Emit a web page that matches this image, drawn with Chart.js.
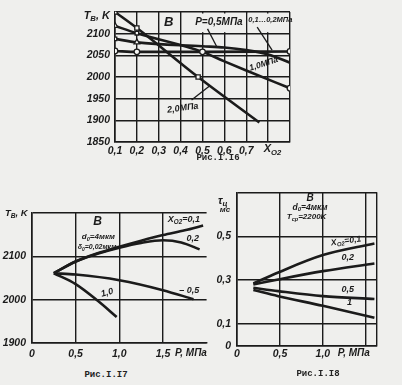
<!DOCTYPE html>
<html><head><meta charset="utf-8">
<script src="https://cdn.jsdelivr.net/npm/chart.js@4"></script>
<style>
html,body{margin:0;padding:0}
body{background:#efefed;width:402px;height:385px;overflow:hidden;position:relative}
canvas{position:absolute}
.cap{position:absolute;font:bold 9px "Liberation Mono",monospace;color:#222;transform:translate(-50%,-50%);white-space:nowrap}
</style></head><body>
<canvas id="c1" width="250" height="168" style="left:60px;top:0px"></canvas>
<canvas id="c2" width="215" height="170" style="left:0px;top:195px"></canvas>
<canvas id="c3" width="185" height="185" style="left:210px;top:180px"></canvas>
<div class="cap" style="left:218px;top:158px">Рис.I.I6</div>
<div class="cap" style="left:106px;top:375px">Рис.I.I7</div>
<div class="cap" style="left:318px;top:374px">Рис.I.I8</div>
<script>
// ---------- Fig. I.16 : T_B vs X_O2 ----------
const f16XTicks = [0.1,0.2,0.3,0.4,0.5,0.6,0.7,0.8,0.9];
const f16XLabels = ['0,1','0,2','0,3','0,4','0,5','0,6','0,7','',''];
const f16YTicks = [1850,1900,1950,2000,2050,2100,2150];
const f16YLabels = ['1850','1900','1950','2000','2050','2100',''];
const f16P20X = [0.1,0.2,0.48,0.76];
const f16P20Y = [2150,2113,2000,1895];
const f16P10X = [0.1,0.2,0.5,0.6,0.7,0.9];
const f16P10Y = [2118,2101,2058,2036,2015,1974];
const f16P05X = [0.1,0.2,0.5,0.6,0.7,0.8,0.9];
const f16P05Y = [2088,2080,2071,2068,2062,2052,2033];
const f16P01X = [0.1,0.2,0.5,0.9];
const f16P01Y = [2060,2058,2058,2059];

// ---------- Fig. I.17 : T_B vs P ----------
const f17XTicks = [0,0.5,1.0,1.5];
const f17XLabels = ['0','0,5','1,0','1,5'];
const f17YTicks = [1900,2000,2100,2200];
const f17YLabels = ['1900','2000','2100',''];
const f17X01 = [0.25,0.5,0.75,1.0,1.25,1.5,1.75,1.96];
const f17Y01 = [2061,2088,2107,2122,2136,2149,2160,2171];
const f17X02 = [0.25,0.5,0.75,1.0,1.25,1.5,1.71,1.92];
const f17Y02 = [2061,2088,2106,2120,2131,2137,2132,2116];
const f17X05 = [0.25,0.5,1.0,1.5,1.85];
const f17Y05 = [2061,2058,2045,2022,2001];
const f17X10 = [0.25,0.5,0.75,0.97];
const f17Y10 = [2061,2036,1998,1960];

// ---------- Fig. I.18 : tau vs P ----------
const f18XTicks = [0,0.5,1.0,1.5,1.63];
const f18XLabels = ['0','0,5','1,0','',''];
const f18YTicks = [0,0.1,0.3,0.5,0.7];
const f18YLabels = ['0','0,1','0,3','0,5',''];
const f18X = [0.19,0.48,1.0,1.6];
const f18Y01 = [0.285,0.335,0.414,0.467];
const f18Y02 = [0.280,0.303,0.341,0.376];
const f18Y05 = [0.265,0.250,0.227,0.214];
const f18Y10 = [0.255,0.227,0.183,0.129];

const INK = '#1b1b1b';
const BG = '#efefed';
const FAM = '"Liberation Sans", Arial, sans-serif';
const TICKFONT = {family: FAM, size: 10.5, style: 'italic', weight: 'bold'};

function pts(xs, ys){ return xs.map((x,i)=>({x, y: ys[i]})); }

function line(xs, ys, extra){
  return Object.assign({data: pts(xs, ys), borderColor: INK, borderWidth: 2.6,
    pointRadius: 0, tension: 0.3, cubicInterpolationMode: 'monotone', fill: false}, extra||{});
}

function drawRich(ctx, parts, x, y, size, align, rot, italic){
  ctx.save();
  ctx.translate(x, y);
  ctx.rotate((rot||0)*Math.PI/180);
  const st = (italic===false ? '' : 'italic ') + 'bold ';
  let w = 0;
  parts.forEach(p=>{ ctx.font = st + (p.sub? size*0.7 : size) + 'px ' + FAM; w += ctx.measureText(p.t).width; });
  let cx = align==='center' ? -w/2 : (align==='right' ? -w : 0);
  ctx.fillStyle = INK; ctx.textBaseline = 'middle'; ctx.textAlign = 'left';
  parts.forEach(p=>{
    ctx.font = st + (p.sub? size*0.7 : size) + 'px ' + FAM;
    ctx.fillText(p.t, cx, p.sub ? size*0.3 : 0);
    cx += ctx.measureText(p.t).width;
  });
  ctx.restore();
}

function notes(cfg){
  return {
    id: 'notes',
    beforeDatasetsDraw(chart){
      const {ctx, scales:{x, y}} = chart;
      (cfg.boxes||[]).forEach(b=>{
        const x1 = x.getPixelForValue(b[0]), x2 = x.getPixelForValue(b[1]);
        const y1 = y.getPixelForValue(b[3]), y2 = y.getPixelForValue(b[2]);
        ctx.save(); ctx.fillStyle = BG; ctx.fillRect(x1+1.5, y1+1.5, x2-x1-3, y2-y1-3); ctx.restore();
      });
    },
    afterDatasetsDraw(chart){
      const {ctx, scales:{x, y}} = chart;
      (cfg.segs||[]).forEach(s=>{
        ctx.save(); ctx.strokeStyle = INK; ctx.lineWidth = 1.3; ctx.beginPath();
        ctx.moveTo(x.getPixelForValue(s[0]), y.getPixelForValue(s[1]));
        ctx.lineTo(x.getPixelForValue(s[2]), y.getPixelForValue(s[3]));
        ctx.stroke(); ctx.restore();
      });
      (cfg.texts||[]).forEach(n=>{
        drawRich(ctx, n.p, x.getPixelForValue(n.x), y.getPixelForValue(n.y), n.s||10, n.a||'center', n.r||0, n.i);
      });
    }
  };
}

function scaleOpts(min, max, ticks, labels, fitKey, fitVal, pad){
  return {
    type: 'linear', min, max,
    afterBuildTicks: s => { s.ticks = ticks.map(v=>({value: v})); },
    afterFit: s => { s[fitKey] = fitVal; },
    ticks: {autoSkip: false, maxRotation: 0, color: INK, font: TICKFONT, padding: pad,
      callback: (v, i) => labels[i]},
    grid: {color: INK, lineWidth: 1.4, drawTicks: false},
    border: {color: INK, width: 1.6}
  };
}

function baseOpts(pad, xs, ys){
  return {
    responsive: false, devicePixelRatio: 1, animation: false,
    layout: {padding: pad},
    plugins: {legend: {display: false}, tooltip: {enabled: false}},
    scales: {x: xs, y: ys}
  };
}

// ----- chart 1 -----
const mk = {pointBackgroundColor: '#f7f7f5', pointBorderColor: INK, pointBorderWidth: 1.3};
new Chart(document.getElementById('c1'), {
  type: 'line',
  data: {datasets: [
    line(f16P20X, f16P20Y, Object.assign({pointRadius: [3,3,3,0], pointStyle: 'rect'}, mk)),
    line(f16P10X, f16P10Y, Object.assign({pointRadius: [3.2,2.5,2.8,0,0,2.8], pointStyle: ['triangle','rect','circle','circle','circle','circle']}, mk)),
    line(f16P05X, f16P05Y, Object.assign({pointRadius: [2.5,3.2,0,0,0,0,0], pointStyle: ['rect','triangle','circle','circle','circle','circle','circle']}, mk)),
    line(f16P01X, f16P01Y, Object.assign({pointRadius: [2.8,2.8,0,2.8], pointStyle: 'circle'}, mk))
  ]},
  options: baseOpts({top: 12, right: 20, left: 0, bottom: 0},
    scaleOpts(0.1, 0.9, f16XTicks, f16XLabels, 'height', 26, 3),
    scaleOpts(1850, 2150, f16YTicks, f16YLabels, 'width', 55, 5)),
  plugins: [notes({
    boxes: [[0.4, 0.7, 2100, 2150], [0.7, 0.9, 2100, 2150]],
    segs: [[0.523, 2111, 0.564, 2071], [0.75, 2115, 0.818, 2062], [0.45, 1947, 0.532, 1979]],
    texts: [
      {x: 0.077, y: 2141, a: 'right', s: 11, p: [{t: 'T'}, {t: 'B', sub: true}, {t: ', K'}]},
      {x: 0.345, y: 2127, s: 13, p: [{t: 'В'}]},
      {x: 0.575, y: 2127, s: 10, p: [{t: 'P=0,5МПа'}]},
      {x: 0.81, y: 2131, s: 7.5, p: [{t: '0,1…0,2МПа'}]},
      {x: 0.78, y: 2030, s: 8.5, r: -18, p: [{t: '1,0МПа'}]},
      {x: 0.41, y: 1928, s: 9, r: -8, p: [{t: '2,0МПа'}]},
      {x: 0.82, y: 1833, s: 11, p: [{t: 'X'}, {t: 'O2', sub: true}]}
    ]
  })]
});

// ----- chart 2 -----
new Chart(document.getElementById('c2'), {
  type: 'line',
  data: {datasets: [
    line(f17X01, f17Y01), line(f17X02, f17Y02), line(f17X05, f17Y05), line(f17X10, f17Y10)
  ]},
  options: baseOpts({top: 18, right: 8.4, left: 0, bottom: 0},
    scaleOpts(0, 2.0, f17XTicks, f17XLabels, 'height', 22, 5),
    scaleOpts(1900, 2200, f17YTicks, f17YLabels, 'width', 32, 6)),
  plugins: [notes({
    texts: [
      {x: -0.31, y: 2200, a: 'left', s: 9.5, p: [{t: 'T'}, {t: 'B', sub: true}, {t: ', K'}]},
      {x: 0.75, y: 2180, s: 12, p: [{t: 'В'}]},
      {x: 0.76, y: 2145, s: 8, p: [{t: 'd'}, {t: '0', sub: true}, {t: '=4мкм'}]},
      {x: 0.745, y: 2121, s: 7, p: [{t: 'δ'}, {t: '0', sub: true}, {t: '=0,02мкм'}]},
      {x: 1.74, y: 2184, s: 9, p: [{t: 'X'}, {t: 'O2', sub: true}, {t: '=0,1'}]},
      {x: 1.84, y: 2142, s: 9, p: [{t: '0,2'}]},
      {x: 1.80, y: 2022, s: 9, p: [{t: '– 0,5'}]},
      {x: 0.86, y: 2016, s: 9, r: -15, p: [{t: '1,0'}]},
      {x: 1.82, y: 1876, s: 10, p: [{t: 'P, МПа'}]}
    ]
  })]
});

// ----- chart 3 -----
new Chart(document.getElementById('c3'), {
  type: 'line',
  data: {datasets: [
    line(f18X, f18Y01), line(f18X, f18Y02), line(f18X, f18Y05), line(f18X, f18Y10)
  ]},
  options: baseOpts({top: 12, right: 18, left: 0, bottom: 0},
    scaleOpts(0, 1.63, f18XTicks, f18XLabels, 'height', 19, 2),
    scaleOpts(0, 0.7, f18YTicks, f18YLabels, 'width', 27, 6)),
  plugins: [notes({
    texts: [
      {x: -0.22, y: 0.662, a: 'left', s: 11, p: [{t: 'τ'}, {t: 'ц', sub: true}]},
      {x: -0.2, y: 0.622, a: 'left', s: 8, p: [{t: 'мс'}]},
      {x: 0.85, y: 0.672, s: 10, p: [{t: 'В'}]},
      {x: 0.85, y: 0.632, s: 8.5, p: [{t: 'd'}, {t: '0', sub: true}, {t: '=4мкм'}]},
      {x: 0.81, y: 0.588, s: 8, p: [{t: 'T'}, {t: 'ср', sub: true}, {t: '=2200K'}]},
      {x: 1.27, y: 0.478, s: 8.5, r: -8, p: [{t: 'X'}, {t: 'O2', sub: true}, {t: '=0,1'}]},
      {x: 1.29, y: 0.405, s: 9, p: [{t: '0,2'}]},
      {x: 1.29, y: 0.255, s: 9, p: [{t: '0,5'}]},
      {x: 1.31, y: 0.198, s: 9, p: [{t: '1'}]},
      {x: 1.36, y: -0.032, s: 10, p: [{t: 'P, МПа'}]}
    ]
  })]
});
</script>
</body></html>
